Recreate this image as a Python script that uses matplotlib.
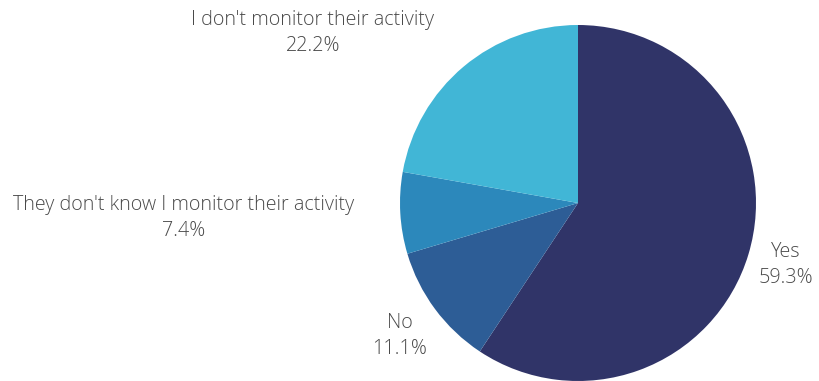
import matplotlib.pyplot as plt

categories = ["Yes", "No", "They don't know I monitor their activity", "I don't monitor their activity"]
shares = [59.3, 11.1, 7.4, 22.2]
colors = ["#303468", "#2d5d96", "#2c88bb", "#41b6d6"]

# label anchor points (pixel coordinates, origin bottom-left)
label_xy = [(786, 116), (400, 45), (184, 163), (313, 348)]

plt.rcParams['font.family'] = ['Open Sans', 'DejaVu Sans']

fig = plt.figure(figsize=(8.19, 3.81), dpi=100)
ax = fig.add_axes([0, 0, 1, 1])
ax.pie(shares, colors=colors, startangle=90, counterclock=False,
       center=(578, 178), radius=178, frame=True,
       wedgeprops=dict(linewidth=0))
ax.set_xlim(0, 819)
ax.set_ylim(0, 381)
ax.set_aspect('equal')
ax.axis('off')

for name, val, (x, y) in zip(categories, shares, label_xy):
    ax.text(x, y, f"{name}\n{val:.1f}%", ha='center', va='center',
            fontsize=14.2, color='#4a4a4a', fontweight='light', linespacing=1.42)

fig.savefig("out.png", dpi=100)
